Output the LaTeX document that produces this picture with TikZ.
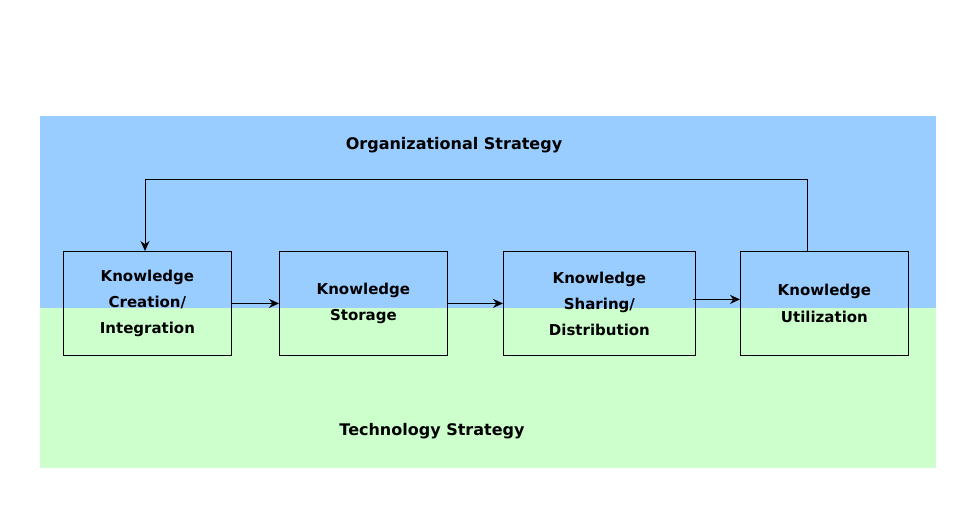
\documentclass[tikz,border=0pt]{standalone}
\usepackage{fontspec}
\setmainfont{DejaVu Sans}
\usetikzlibrary{arrows.meta}
\definecolor{orgblue}{HTML}{99CCFF}
\definecolor{techgreen}{HTML}{CCFFCC}
\begin{document}
\begin{tikzpicture}[x=1pt,y=-1pt,
  kbox/.style={draw=black,line width=0.8pt,minimum width=168pt,minimum height=104pt,align=center,font=\fontsize{15}{26}\selectfont\bfseries,anchor=north west},
  flow/.style={-{Stealth[length=10pt,width=9pt]},line width=1.5pt},
  lbl/.style={font=\fontsize{16}{18}\selectfont\bfseries}]
\useasboundingbox (0,0) rectangle (960,504);
\fill[orgblue] (40,116) rectangle (936,308);
\fill[techgreen] (40,308) rectangle (936,468);
\node[kbox] (b1) at (63,251) {Knowledge\\Creation/\\Integration};
\node[kbox] (b2) at (279,251) {Knowledge\\Storage};
\node[kbox,minimum width=192pt] (b3) at (503,251) {Knowledge\\Sharing/\\Distribution};
\node[kbox] (b4) at (740,251) {Knowledge\\Utilization};
\node[lbl] (org) at (454,145) {Organizational Strategy};
\node[lbl] (tech) at (432,431) {Technology Strategy};
\draw[flow] (b1.east) -- (b2.west);
\draw[flow] (b2.east) -- (b3.west);
\coordinate (s3) at ([xshift=-3pt,yshift=4pt]b3.east);
\draw[flow] (s3) -- (s3 -| b4.west);
\coordinate (t4) at (807,251);
\coordinate (t1) at (145,251);
\draw[flow,line width=1pt] (t4) -- (807,179) -- (145,179) -- (t1);
\end{tikzpicture}
\end{document}
